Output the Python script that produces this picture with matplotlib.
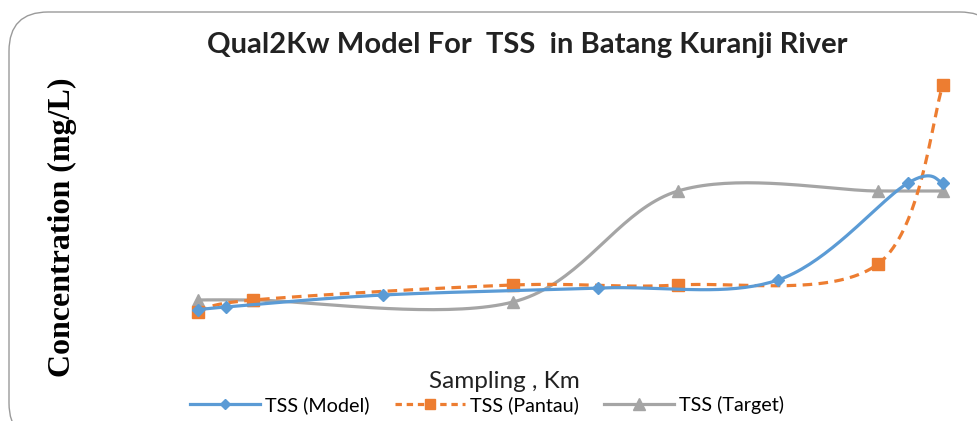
import numpy as np
import matplotlib
matplotlib.use("Agg")
import matplotlib.pyplot as plt
from matplotlib.patches import FancyBboxPatch

# distance along river (km) and TSS (mg/L)
km_model = [0.0, 0.56, 3.7, 8.0, 11.6, 14.2, 14.9]
tss_model = [4.0, 4.6, 7.0, 8.4, 10.0, 29.4, 29.4]

km_obs = [0.0, 1.1, 6.3, 9.6, 13.6, 14.9]
tss_pantau = [3.6, 6.0, 9.0, 9.0, 13.2, 49.0]
tss_target = [6.0, 6.0, 5.6, 27.8, 27.8, 27.8]

labels = ["TSS (Model)", "TSS (Pantau)", "TSS (Target)"]


def smooth(x, y, n=40):
    # Excel-like smoothed line: Catmull-Rom through the points as cubic Beziers
    p = np.column_stack([x, y]).astype(float)
    out = []
    for i in range(len(p) - 1):
        p0 = p[i - 1] if i > 0 else p[i]
        p3 = p[i + 2] if i + 2 < len(p) else p[i + 1]
        c1 = p[i] + (p[i + 1] - p0) / 6
        c2 = p[i + 1] - (p3 - p[i]) / 6
        t = np.linspace(0, 1, n)[:, None]
        seg = ((1 - t) ** 3) * p[i] + 3 * ((1 - t) ** 2) * t * c1 + 3 * (1 - t) * t ** 2 * c2 + t ** 3 * p[i + 1]
        out.append(seg)
    s = np.vstack(out)
    return s[:, 0], s[:, 1]


W, H = 978, 421
fig = plt.figure(figsize=(W / 100, H / 100), dpi=100)

# rounded chart frame
frame = FancyBboxPatch((9 / W, -0.05), 990 / W, 1.0 - 12 / H + 0.05,
                       boxstyle="round,pad=0,rounding_size=0.04",
                       transform=fig.transFigure, fc="white", ec="#9a9a9a", lw=1.0,
                       mutation_aspect=W / H, zorder=-5)
fig.patches.append(frame)

ax = fig.add_axes([180 / W, (H - 350) / H, 780 / W, 290 / H])
ax.set_zorder(5)
ax.set_xlim(-0.36, 15.24)
ax.set_ylim(-4, 54)
ax.axis("off")

blue, orange, gray = "#5B9BD5", "#ED7D31", "#A5A5A5"

sx, sy = smooth(km_obs, tss_target)
ax.plot(sx, sy, color=gray, lw=2.3, zorder=2)
ax.plot(km_obs, tss_target, ls="none", marker="^", ms=9, color=gray, zorder=3)

sx, sy = smooth(km_obs, tss_pantau)
ax.plot(sx, sy, color=orange, lw=2.3, ls=(0, (3, 2)), zorder=4)
ax.plot(km_obs, tss_pantau, ls="none", marker="s", ms=8, color=orange, zorder=5)

sx, sy = smooth(km_model, tss_model)
ax.plot(sx, sy, color=blue, lw=2.3, zorder=6)
ax.plot(km_model, tss_model, ls="none", marker="D", ms=6, color=blue, zorder=7)

fig.text(527 / W, 1 - 45 / H, "Qual2Kw Model For  TSS  in Batang Kuranji River",
         ha="center", va="center", fontsize=21, fontweight="bold",
         family="Lato", color="#222222")
fig.text(62 / W, 1 - 227 / H, "Concentration (mg/L)", rotation=90,
         ha="center", va="center", fontsize=23, fontweight="bold",
         family="Liberation Serif")
fig.text(504 / W, 1 - 382 / H, "Sampling , Km", ha="center", va="center",
         fontsize=17.5, family="Lato", color="#222222")

handles = [
    plt.Line2D([], [], color=blue, lw=2.3, marker="D", ms=5),
    plt.Line2D([], [], color=orange, lw=2.3, ls=(0, (2, 1.5)), marker="s", ms=7),
    plt.Line2D([], [], color=gray, lw=2.3, marker="^", ms=8),
]
fig.legend(handles, labels, loc="center", bbox_to_anchor=(487 / W, 1 - 405 / H),
           ncol=3, frameon=False, handlelength=3.55,
           columnspacing=1.27, handletextpad=0.25, borderpad=0,
           prop={"family": "Lato", "size": 14.2})

fig.savefig("out.png", dpi=100)
